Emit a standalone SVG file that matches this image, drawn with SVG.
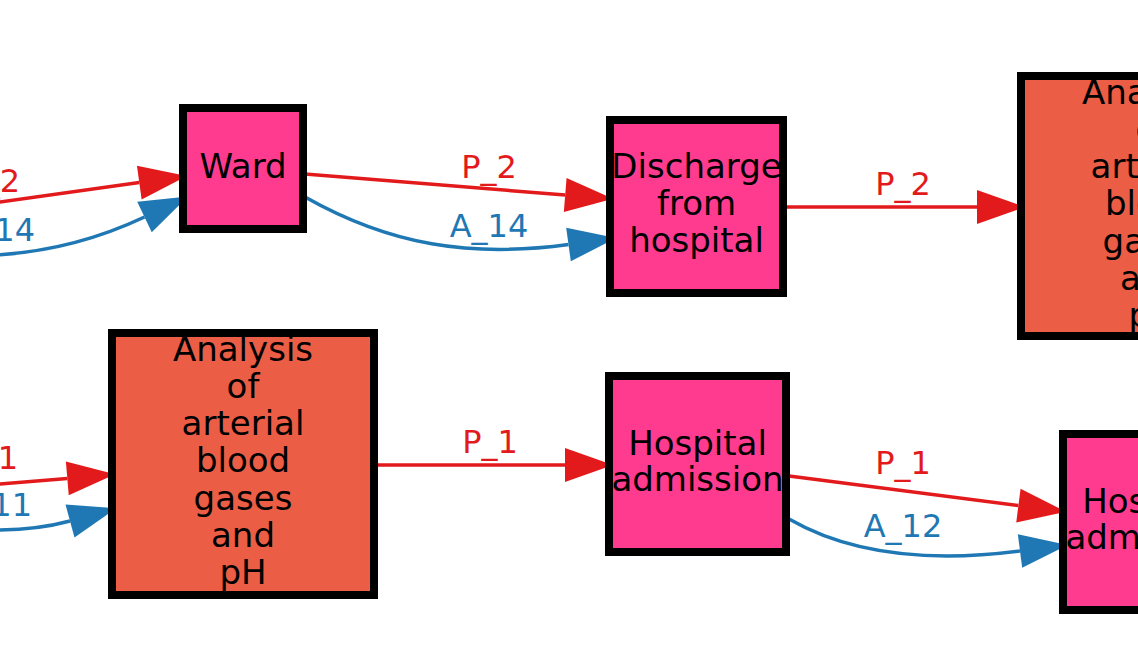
<svg xmlns="http://www.w3.org/2000/svg" width="1138" height="646" viewBox="0 0 1138 646">
<style>
.node rect{stroke:#000;stroke-width:8}
.pink{fill:#fe3b8f}
.tom{fill:#eb5d44}
.nt{font-family:"DejaVu Sans",sans-serif;font-size:34px;fill:#000;text-anchor:middle}
.e{fill:none;stroke-width:3.5}
.r{stroke:#e31a1c}
.b{stroke:#1f78b4}
.lbl{font-family:"DejaVu Sans",sans-serif;font-size:32px;text-anchor:middle}
.lr{fill:#e31a1c}
.lb{fill:#1f78b4}
.end{text-anchor:end}
</style>
<defs>
<marker id="ar" markerUnits="userSpaceOnUse" markerWidth="50" markerHeight="36" refX="0" refY="17" orient="auto" overflow="visible"><path d="M0,0 L48,17 L0,34 z" fill="#e31a1c"/></marker>
<marker id="ab" markerUnits="userSpaceOnUse" markerWidth="50" markerHeight="36" refX="0" refY="17" orient="auto" overflow="visible"><path d="M0,0 L48,17 L0,34 z" fill="#1f78b4"/></marker>
</defs>
<rect width="1138" height="646" fill="#fff"/>
<g id="edges">
<path class="e r" d="M-5,202.6 L139.3,182.6" marker-end="url(#ar)"/>
<path class="e b" d="M-5,255 C 50,252 100,238 144.5,217" marker-end="url(#ab)"/>
<path class="e r" d="M305,174 L565.2,195" marker-end="url(#ar)"/>
<path class="e b" d="M305,197 C 390,245 470,258 568.5,244.5" marker-end="url(#ab)"/>
<path class="e r" d="M787,207 L977,207" marker-end="url(#ar)"/>
<path class="e r" d="M-5,484.5 L67.3,478.4" marker-end="url(#ar)"/>
<path class="e b" d="M-5,530 C 25,530 48,527 70,521" marker-end="url(#ab)"/>
<path class="e r" d="M376,465 L565,465" marker-end="url(#ar)"/>
<path class="e r" d="M789,476 L1018.4,505.6" marker-end="url(#ar)"/>
<path class="e b" d="M789,519 C 860,560 950,560 1020,551" marker-end="url(#ab)"/>
<text class="lbl lr end" x="20" y="192">P_2</text>
<text class="lbl lb end" x="35" y="241">A_14</text>
<text class="lbl lr" x="489" y="178">P_2</text>
<text class="lbl lb" x="489" y="237">A_14</text>
<text class="lbl lr" x="903" y="195">P_2</text>
<text class="lbl lr end" x="18" y="469">P_1</text>
<text class="lbl lb end" x="32" y="516">A_11</text>
<text class="lbl lr" x="490" y="453">P_1</text>
<text class="lbl lr" x="903" y="474">P_1</text>
<text class="lbl lb" x="903" y="537">A_12</text>
</g>
<g id="ward" class="node"><rect class="pink" x="183" y="108" width="120" height="121"/><text class="nt" x="243" y="178">Ward</text></g>
<g id="discharge" class="node"><rect class="pink" x="610" y="120" width="173" height="173"/><text class="nt" x="696.5" y="178">Discharge</text><text class="nt" x="696.5" y="215">from</text><text class="nt" x="696.5" y="252">hospital</text></g>
<g id="analysis2" class="node"><rect class="tom" x="1021" y="76" width="262" height="260"/><text class="nt" x="1152" y="104">Analysis</text><text class="nt" x="1152" y="141">of</text><text class="nt" x="1152" y="178">arterial</text><text class="nt" x="1152" y="215">blood</text><text class="nt" x="1152" y="253">gases</text><text class="nt" x="1152" y="290">and</text><text class="nt" x="1152" y="327">pH</text></g>
<g id="analysis1" class="node"><rect class="tom" x="112" y="333" width="262" height="262"/><text class="nt" x="243" y="361">Analysis</text><text class="nt" x="243" y="398">of</text><text class="nt" x="243" y="435">arterial</text><text class="nt" x="243" y="472">blood</text><text class="nt" x="243" y="510">gases</text><text class="nt" x="243" y="547">and</text><text class="nt" x="243" y="584">pH</text></g>
<g id="admission1" class="node"><rect class="pink" x="609" y="376" width="177" height="176"/><text class="nt" x="697.5" y="455">Hospital</text><text class="nt" x="697.5" y="491">admission</text></g>
<g id="admission2" class="node"><rect class="pink" x="1063" y="434" width="177" height="176"/><text class="nt" x="1151.5" y="513">Hospital</text><text class="nt" x="1151.5" y="549">admission</text></g>
</svg>
